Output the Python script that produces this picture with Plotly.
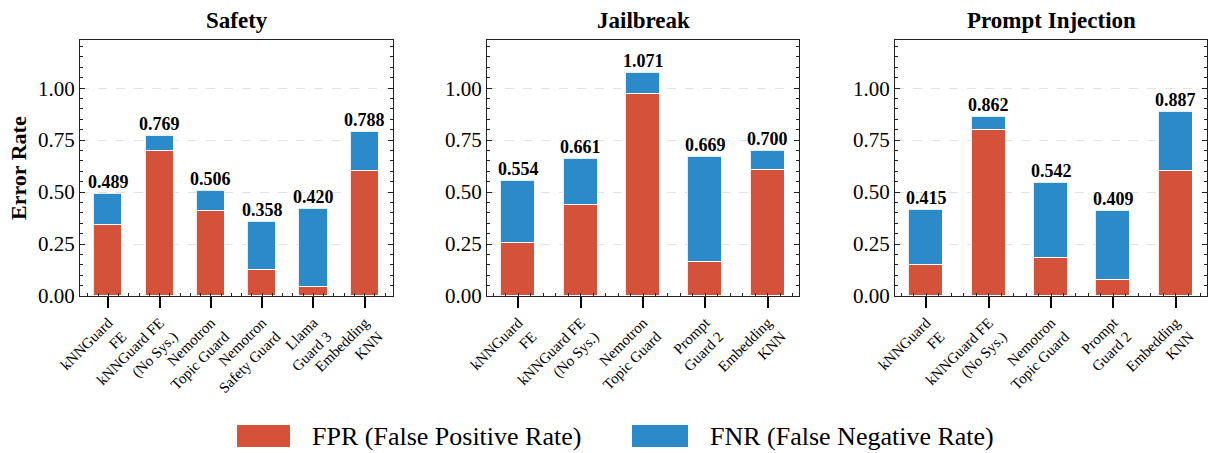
import plotly.graph_objects as go

# ---------------- data ----------------
panel_titles = ["Safety", "Jailbreak", "Prompt Injection"]

safety_labels = ["kNNGuard<br>FE", "kNNGuard FE<br>(No Sys.)", "Nemotron<br>Topic Guard",
                 "Nemotron<br>Safety Guard", "Llama<br>Guard 3", "Embedding<br>KNN"]
safety_fpr = [0.342, 0.698, 0.409, 0.125, 0.045, 0.602]
safety_fnr = [0.147, 0.071, 0.097, 0.233, 0.375, 0.186]

jailbreak_labels = ["kNNGuard<br>FE", "kNNGuard FE<br>(No Sys.)", "Nemotron<br>Topic Guard",
                    "Prompt<br>Guard 2", "Embedding<br>KNN"]
jailbreak_fpr = [0.255, 0.437, 0.971, 0.164, 0.607]
jailbreak_fnr = [0.299, 0.224, 0.100, 0.505, 0.093]

injection_labels = ["kNNGuard<br>FE", "kNNGuard FE<br>(No Sys.)", "Nemotron<br>Topic Guard",
                    "Prompt<br>Guard 2", "Embedding<br>KNN"]
injection_fpr = [0.149, 0.799, 0.181, 0.077, 0.602]
injection_fnr = [0.266, 0.063, 0.361, 0.332, 0.285]

y_ticks = [0.0, 0.25, 0.5, 0.75, 1.0]
legend_names = ["FPR (False Positive Rate)", "FNR (False Negative Rate)"]

# ---------------- style ----------------
W, H = 1209, 453
FONT = "Liberation Serif"
RED = "#D4513A"
BLUE = "#2A8BC8"
BAR_W = 0.55

panels = [
    (safety_labels, safety_fpr, safety_fnr),
    (jailbreak_labels, jailbreak_fpr, jailbreak_fnr),
    (injection_labels, injection_fpr, injection_fnr),
]
x_px = [(80, 393), (487, 799), (895, 1207)]
y_top_px, y_bot_px = 40, 296

ymax = max(f + n for _, fp, fn in panels for f, n in zip(fp, fn)) * 1.15

fig = go.Figure()
annotations = []
shapes = []

def px(x):
    return x / W

def py(y):
    return 1 - y / H

for i, (labels, fpr, fnr) in enumerate(panels):
    k = "" if i == 0 else str(i + 1)
    xa, ya = "x" + k, "y" + k
    n = len(labels)
    xs = list(range(n))
    fig.add_trace(go.Bar(x=xs, y=fpr, width=BAR_W, name=legend_names[0],
                         marker=dict(color=RED, line=dict(color="rgba(255,255,255,0.85)", width=1.2)),
                         xaxis=xa, yaxis=ya, showlegend=False))
    fig.add_trace(go.Bar(x=xs, y=fnr, width=BAR_W, name=legend_names[1],
                         marker=dict(color=BLUE, line=dict(color="rgba(255,255,255,0.85)", width=1.2)),
                         xaxis=xa, yaxis=ya, showlegend=False))
    totals = [a + b for a, b in zip(fpr, fnr)]
    for xv, t in zip(xs, totals):
        annotations.append(dict(x=xv, y=t, xref=xa, yref=ya, text=f"<b>{t:.3f}</b>",
                                showarrow=False, yanchor="bottom", yshift=0,
                                font=dict(family=FONT, size=18, color="black")))
    span = (n - 1) + BAR_W
    pad = 0.05 * span
    xr = [-BAR_W / 2 - pad, n - 1 + BAR_W / 2 + pad]
    x0, x1 = x_px[i]
    dom = [px(x0), px(x1)]
    fig.layout["xaxis" + k] = dict(
        domain=dom, anchor=ya, range=xr, tickvals=xs, ticktext=labels, automargin=False,
        tickangle=-45, ticks="outside", ticklen=11, tickwidth=1.5, tickcolor="black",
        showline=True, linecolor="#222", linewidth=1.2, mirror=True,
        showgrid=False, zeroline=False,
        tickfont=dict(family=FONT, size=15, color="black"),
        minor=dict(ticks="inside", dtick=0.2, tick0=0, ticklen=3, tickcolor="#222", tickwidth=1, showgrid=False),
    )
    fig.layout["yaxis" + k] = dict(
        domain=[py(y_bot_px), py(y_top_px)], anchor=xa, range=[0, ymax], automargin=False,
        tickvals=y_ticks, tickformat=".2f", ticks="inside", ticklen=5, tickwidth=1.2,
        tickcolor="#222", showline=True, linecolor="#222", linewidth=1.2, mirror="allticks",
        showgrid=True, gridcolor="#e3e3e3", griddash="dash", gridwidth=0.8, zeroline=False,
        tickfont=dict(family=FONT, size=21, color="black"),
        minor=dict(ticks="inside", dtick=0.05, tick0=0, ticklen=3, tickcolor="#222", tickwidth=1, showgrid=False),
    )
    # top axis for minor ticks
    fig.layout["xaxis" + str(i + 4)] = dict(
        overlaying=xa, anchor=ya, side="top", range=xr, showticklabels=False, automargin=False,
        tickvals=xs, ticks="", showline=False, showgrid=False, zeroline=False,
        minor=dict(ticks="inside", dtick=0.2, tick0=0, ticklen=3, tickcolor="#222", tickwidth=1, showgrid=False),
    )
    annotations.append(dict(x=(dom[0] + dom[1]) / 2, y=py(20), xref="paper", yref="paper",
                            text=f"<b>{panel_titles[i]}</b>", showarrow=False,
                            xanchor="center", yanchor="middle",
                            font=dict(family=FONT, size=23, color="black")))

# y-axis title
annotations.append(dict(x=px(18), y=py((y_top_px + y_bot_px) / 2), xref="paper", yref="paper",
                        text="<b>Error Rate</b>", textangle=-90, showarrow=False,
                        xanchor="center", yanchor="middle",
                        font=dict(family=FONT, size=22, color="black")))

# legend (manual)
leg_items = [(RED, legend_names[0], 237, 290, 310), (BLUE, legend_names[1], 632, 688, 708)]
for col, name, a, b, tx in leg_items:
    shapes.append(dict(type="rect", xref="paper", yref="paper", x0=px(a), x1=px(b),
                       y0=py(447), y1=py(425), fillcolor=col, line=dict(width=0)))
    annotations.append(dict(x=px(tx), y=py(436), xref="paper", yref="paper", text=name,
                            showarrow=False, xanchor="left", yanchor="middle",
                            font=dict(family=FONT, size=26, color="black")))

fig.update_layout(
    width=W, height=H, barmode="stack", bargap=0,
    margin=dict(l=0, r=0, t=0, b=0, autoexpand=False),
    paper_bgcolor="white", plot_bgcolor="white",
    annotations=annotations, shapes=shapes,
    font=dict(family=FONT, color="black"),
)

fig.write_html("out.html", config={"displayModeBar": False},
               post_script="document.body.style.margin='0';document.body.style.overflow='hidden';")
